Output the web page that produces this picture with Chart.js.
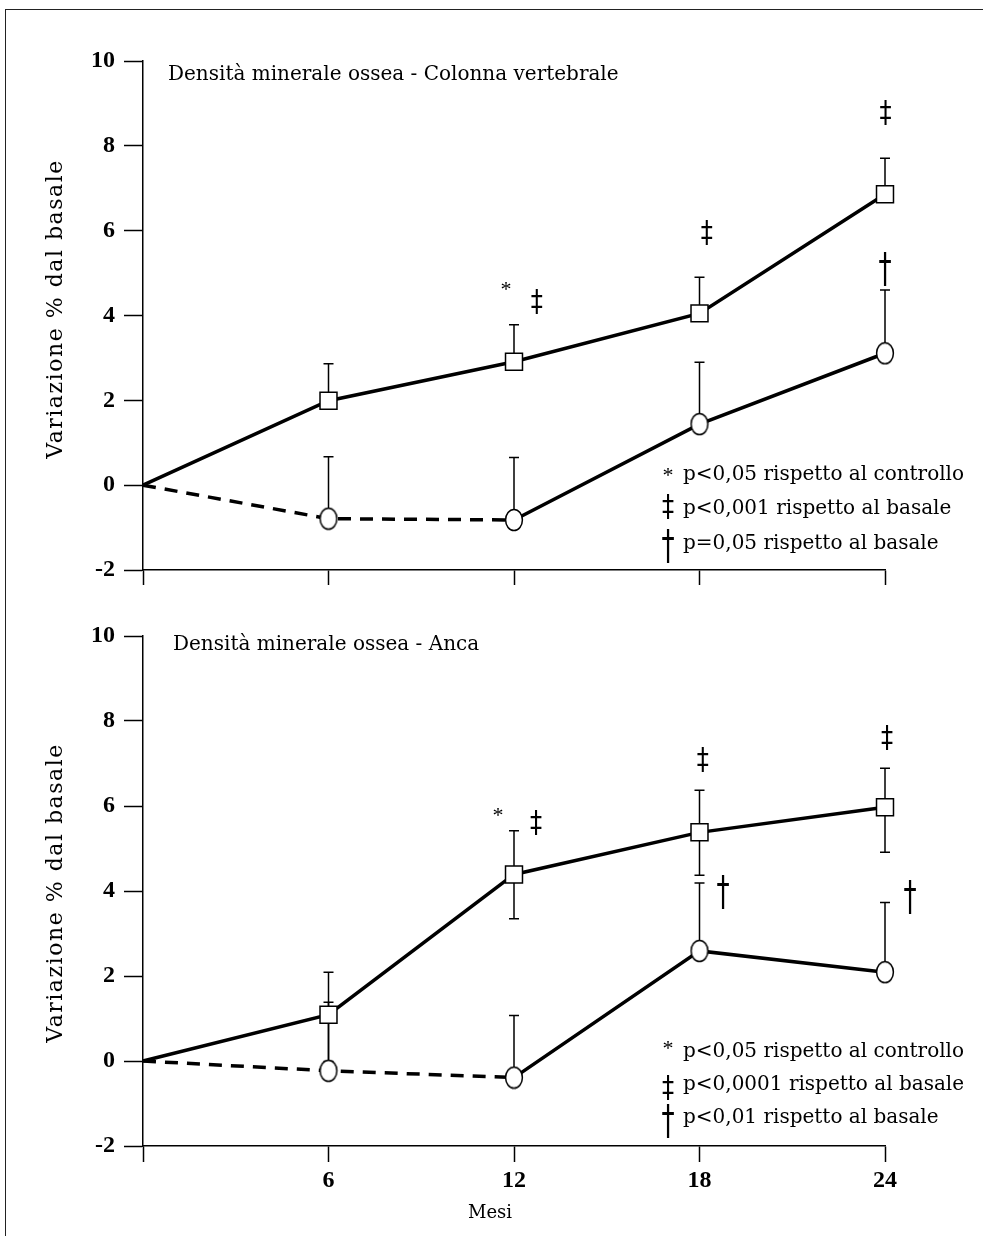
<!DOCTYPE html>
<html><head><meta charset="utf-8">
<script src="https://cdn.jsdelivr.net/npm/chart.js@4.4.1/dist/chart.umd.min.js"></script>
<style>
html,body{margin:0;padding:0;background:#fff;width:983px;height:1236px;overflow:hidden;position:relative;}
#frame{position:absolute;left:5px;top:9px;width:1100px;height:1400px;border-left:1.5px solid #222;border-top:1.5px solid #222;}
.wrap{position:absolute;left:0;width:983px;}
</style></head>
<body>
<div id="frame"></div>
<div class="wrap" style="top:0;height:600px"><canvas id="c1" width="983" height="600"></canvas></div>
<div class="wrap" style="top:600px;height:636px"><canvas id="c2" width="983" height="636"></canvas></div>
<script>
// ---- data ----
const months = [0, 6, 12, 18, 24];
const xTickLabels = ['', '6', '12', '18', '24'];
const yTicks = [-2, 0, 2, 4, 6, 8, 10];

// Panel 1: Colonna vertebrale
const spineTitle = 'Densità minerale ossea - Colonna vertebrale';
const spineSquare = [0, 1.99, 2.91, 4.05, 6.86];
const spineSquareErrUp = [0, 0.87, 0.87, 0.85, 0.85];
const spineCircle = [0, -0.79, -0.82, 1.44, 3.11];
const spineCircleErrUp = [0, 1.46, 1.47, 1.46, 1.49];
const spineMarks = [
  {x: 11.74, y: 4.70, s: '*'}, {x: 12.74, y: 4.34, s: '‡'},
  {x: 18.24, y: 5.97, s: '‡'}, {x: 24.02, y: 8.80, s: '‡'},
  {x: 24.00, y: 5.07, s: '†'}
];
const spineLegend = [
  ['*', 'p<0,05 rispetto al controllo'],
  ['‡', 'p<0,001 rispetto al basale'],
  ['†', 'p=0,05 rispetto al basale']
];

// Panel 2: Anca
const hipTitle = 'Densità minerale ossea - Anca';
const hipSquare = [0, 1.09, 4.39, 5.38, 5.97];
const hipSquareErrUp = [0, 1.00, 1.03, 0.99, 0.92];
const hipSquareErrDown = [0, 1.10, 1.04, 1.01, 1.06];
const hipCircle = [0, -0.23, -0.39, 2.59, 2.09];
const hipCircleErrUp = [0, 1.61, 1.46, 1.60, 1.64];
const hipMarks = [
  {x: 11.48, y: 5.85, s: '*'}, {x: 12.71, y: 5.61, s: '‡'},
  {x: 18.11, y: 7.10, s: '‡'}, {x: 24.07, y: 7.61, s: '‡'},
  {x: 18.76, y: 3.96, s: '†'}, {x: 24.81, y: 3.84, s: '†'}
];
const hipLegend = [
  ['*', 'p<0,05 rispetto al controllo'],
  ['‡', 'p<0,0001 rispetto al basale'],
  ['†', 'p<0,01 rispetto al basale']
];

const yAxisTitle = 'Variazione % dal basale';
const xAxisTitle = 'Mesi';

// ---- rendering ----
const TEXT_FONT = '"DejaVu Serif", serif';
const TICK_FONT = '"Liberation Serif", serif';
const SYM_FONT = '"DejaVu Sans", sans-serif';

function ellipseImg() {
  const c = document.createElement('canvas');
  c.width = 20; c.height = 24;
  const g = c.getContext('2d');
  g.beginPath();
  g.ellipse(10, 12, 8.4, 10.5, 0, 0, Math.PI * 2);
  g.fillStyle = '#fff'; g.fill();
  g.lineWidth = 1.5; g.strokeStyle = '#000'; g.stroke();
  return c;
}
const ellipse = ellipseImg();

// symbol glyph styles: font and stretch
const symStyle = {
  '*': {font: '22px ' + TICK_FONT, sx: 1, sy: 1},
  '‡': {font: '22px ' + SYM_FONT, sx: 1.1, sy: 1.38},
  '†': {font: '25px ' + SYM_FONT, sx: 1.05, sy: 1.62}
};
function drawSym(ctx, s, cx, cy) {
  const st = symStyle[s];
  ctx.save();
  ctx.font = st.font;
  ctx.textAlign = 'center';
  ctx.textBaseline = 'alphabetic';
  const m = ctx.measureText(s);
  ctx.translate(cx, cy);
  ctx.scale(st.sx, st.sy);
  ctx.fillStyle = '#000';
  ctx.fillText(s, 0, (m.actualBoundingBoxAscent - m.actualBoundingBoxDescent) / 2);
  ctx.restore();
}

function makePlugin(cfg) {
  return {
    id: 'annot' + cfg.key,
    beforeDatasetsDraw(chart) {
      const ctx = chart.ctx, xs = chart.scales.x, ys = chart.scales.y;
      ctx.save();
      ctx.strokeStyle = '#000'; ctx.lineWidth = 1.5; ctx.lineCap = 'butt';
      cfg.errors.forEach(e => {
        e.values.forEach((v, i) => {
          const x = xs.getPixelForValue(months[i]);
          const y0 = ys.getPixelForValue(v);
          [[e.up ? e.up[i] : 0, 1], [e.down ? e.down[i] : 0, -1]].forEach(([d, sg]) => {
            if (!d) return;
            const y1 = ys.getPixelForValue(v + sg * d);
            ctx.beginPath();
            ctx.moveTo(x, y0); ctx.lineTo(x, y1);
            ctx.moveTo(x - 5, y1); ctx.lineTo(x + 5, y1);
            ctx.stroke();
          });
        });
      });
      ctx.restore();
    },
    afterDraw(chart) {
      const ctx = chart.ctx, xs = chart.scales.x, ys = chart.scales.y;
      ctx.save();
      ctx.fillStyle = '#000';
      // panel title
      ctx.font = '20px ' + TEXT_FONT;
      ctx.textAlign = 'left'; ctx.textBaseline = 'alphabetic';
      ctx.fillText(cfg.title, cfg.titleX, cfg.titleY);
      // legend
      cfg.legend.forEach((row, i) => {
        ctx.font = '20px ' + TEXT_FONT;
        ctx.textAlign = 'left'; ctx.textBaseline = 'alphabetic';
        ctx.fillText(row[1], 683, cfg.legendY[i]);
        drawSym(ctx, row[0], 668, cfg.legendSymY[i]);
      });
      // significance marks
      cfg.marks.forEach(mk => {
        drawSym(ctx, mk.s, xs.getPixelForValue(mk.x), ys.getPixelForValue(mk.y));
      });
      // y axis title
      ctx.save();
      ctx.translate(56, cfg.yTitleY);
      ctx.rotate(-Math.PI / 2);
      ctx.font = '22px ' + TEXT_FONT;
      ctx.textAlign = 'center'; ctx.textBaseline = 'middle';
      const w = ctx.measureText(yAxisTitle).width;
      ctx.letterSpacing = Math.max(0, (298 - w) / (yAxisTitle.length - 1)) + 'px';
      ctx.fillText(yAxisTitle, 0, 0);
      ctx.restore();
      if (cfg.showXTitle) {
        ctx.font = '18px ' + TEXT_FONT;
        ctx.textAlign = 'center'; ctx.textBaseline = 'alphabetic';
        ctx.fillText(xAxisTitle, 490, 618);
      }
      ctx.restore();
    }
  };
}

function makeChart(canvas, sq, circ, cfg) {
  return new Chart(canvas, {
    type: 'line',
    data: {
      datasets: [
        {
          data: months.map((m, i) => ({x: m, y: sq[i]})),
          borderColor: '#000', borderWidth: 3.5,
          pointStyle: 'rect', pointRadius: [0, 12, 12, 12, 12],
          pointBackgroundColor: '#fff', pointBorderColor: '#000', pointBorderWidth: 1.5,
          tension: 0, clip: false
        },
        {
          data: months.map((m, i) => ({x: m, y: circ[i]})),
          borderColor: '#000', borderWidth: 3.5,
          pointStyle: ellipse, pointRadius: [0, 10, 10, 10, 10],
          tension: 0, clip: false,
          segment: { borderDash: c => c.p1DataIndex <= 2 ? [13, 9] : undefined }
        }
      ]
    },
    options: {
      responsive: false, animation: false, events: [],
      layout: { autoPadding: false, padding: { left: 0, top: cfg.padTop, right: 98, bottom: 0 } },
      plugins: { legend: { display: false }, tooltip: { enabled: false }, title: { display: false } },
      scales: {
        x: {
          type: 'linear', min: 0, max: 24,
          afterBuildTicks: s => { s.ticks = months.map(v => ({value: v})); },
          afterFit: s => { s.height = cfg.xHeight; },
          ticks: {
            display: cfg.showXLabels, autoSkip: false, maxRotation: 0, padding: 4,
            color: '#000', font: { family: TICK_FONT, size: 24, weight: 'bold' },
            callback: (v, i) => xTickLabels[i]
          },
          grid: { drawOnChartArea: false, drawTicks: true, tickLength: cfg.xTickLen, tickWidth: 1.5, tickColor: '#000' },
          border: { display: true, color: '#000', width: 1.5 }
        },
        y: {
          type: 'linear', min: -2, max: 10,
          afterBuildTicks: s => { s.ticks = yTicks.map(v => ({value: v})); },
          afterFit: s => { s.width = 143; },
          ticks: {
            padding: 9, color: '#000',
            font: { family: TICK_FONT, size: 24, weight: 'bold' },
            callback: v => String(v)
          },
          grid: { drawOnChartArea: false, drawTicks: true, tickLength: 19, tickWidth: 1.5, tickColor: '#000' },
          border: { display: true, color: '#000', width: 1.5 }
        }
      }
    },
    plugins: [makePlugin(cfg)]
  });
}

makeChart(document.getElementById('c1'), spineSquare, spineCircle, {
  key: 1, padTop: 61, xHeight: 30, xTickLen: 15, showXLabels: false, showXTitle: false,
  title: spineTitle, titleX: 168, titleY: 80,
  legend: spineLegend, legendY: [480, 514, 549], legendSymY: [472, 506, 547],
  marks: spineMarks, yTitleY: 309,
  errors: [
    {values: spineSquare, up: spineSquareErrUp},
    {values: spineCircle, up: spineCircleErrUp}
  ]
});

makeChart(document.getElementById('c2'), hipSquare, hipCircle, {
  key: 2, padTop: 36, xHeight: 90, xTickLen: 16, showXLabels: true, showXTitle: true,
  title: hipTitle, titleX: 173, titleY: 50,
  legend: hipLegend, legendY: [457, 490, 523], legendSymY: [445, 487, 522],
  marks: hipMarks, yTitleY: 293,
  errors: [
    {values: hipSquare, up: hipSquareErrUp, down: hipSquareErrDown},
    {values: hipCircle, up: hipCircleErrUp}
  ]
});
</script>
</body></html>
